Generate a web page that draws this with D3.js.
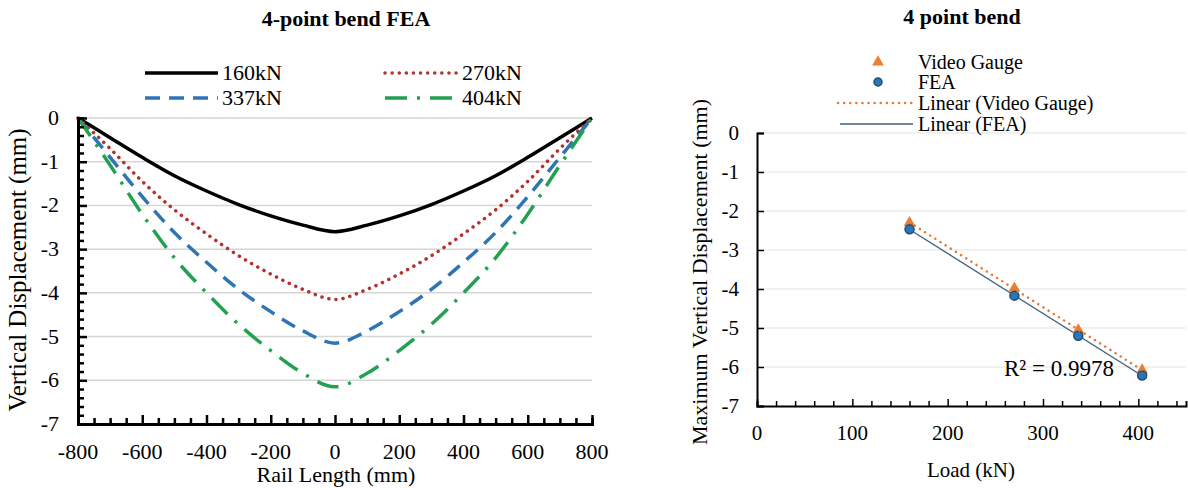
<!DOCTYPE html>
<html>
<head>
<meta charset="utf-8">
<script src="https://cdn.jsdelivr.net/npm/d3@7"></script>
<style>
  body { margin: 0; background: #fff; }
  svg { display: block; }
  text { font-family: "Liberation Serif", "Times New Roman", serif; fill: #000; }
</style>
</head>
<body>
<svg id="chart" width="1188" height="488"></svg>
<script>
// Left chart: deflection along rail
const railLength = [-800, -700, -600, -500, -400, -300, -200, -100, 0, 100, 200, 300, 400, 500, 600, 700, 800];
const defl160 = [0, -0.45, -0.9, -1.32, -1.67, -1.98, -2.24, -2.45, -2.6, -2.45, -2.24, -1.98, -1.67, -1.32, -0.9, -0.45, 0];
const defl270 = [0, -0.7, -1.45, -2.1, -2.65, -3.15, -3.57, -3.92, -4.15, -3.92, -3.57, -3.15, -2.65, -2.1, -1.45, -0.7, 0];
const defl337 = [0, -0.9, -1.8, -2.62, -3.3, -3.92, -4.43, -4.87, -5.15, -4.87, -4.43, -3.92, -3.3, -2.62, -1.8, -0.9, 0];
const defl404 = [0, -1.08, -2.2, -3.2, -4.0, -4.72, -5.32, -5.84, -6.15, -5.84, -5.32, -4.72, -4.0, -3.2, -2.2, -1.08, 0];
const leftNames = ["160kN", "270kN", "337kN", "404kN"];
const leftXTicks = [-800, -600, -400, -200, 0, 200, 400, 600, 800];
const leftYTicks = [0, -1, -2, -3, -4, -5, -6, -7];

// Right chart: max deflection vs load
const loads = [160, 270, 337, 404];
const videoGauge = [-2.3, -3.98, -5.05, -6.08];
const feaMax = [-2.47, -4.17, -5.2, -6.22];
const rightXTicks = [0, 100, 200, 300, 400];
const rightYTicks = [0, -1, -2, -3, -4, -5, -6, -7];
const rSquared = "0.9978";

const FONT = "Liberation Serif, Times New Roman, serif";
const svg = d3.select("#chart");

leftPlotter();
rightPlotter();

function addText(g, x, y, str, size, anchor, bold) {
    return g.append("text")
        .attr("x", x).attr("y", y)
        .attr("text-anchor", anchor || "start")
        .attr("font-family", FONT)
        .attr("font-size", size)
        .attr("font-weight", bold ? "bold" : "normal")
        .text(str);
}

function leftPlotter() {
    const x = d3.scaleLinear().domain([-800, 800]).range([78, 592]);
    const y = d3.scaleLinear().domain([0, -7]).range([118, 424]);

    const g = svg.append("g");

    // gridlines
    g.selectAll(".grid")
        .data(leftYTicks.slice(0, -1))
        .enter().append("line")
        .attr("x1", x(-800)).attr("x2", x(800))
        .attr("y1", d => y(d)).attr("y2", d => y(d))
        .attr("stroke", "#d6d6d6").attr("stroke-width", 1.5);

    const styles = [
        { color: "#000000", dash: null, cap: "butt", w: 3.5 },
        { color: "#b3322f", dash: "0.1 7", cap: "round", w: 3.5 },
        { color: "#2e75b6", dash: "15 9", cap: "butt", w: 3.5 },
        { color: "#22a150", dash: "22 10 3 10", cap: "butt", w: 3.5 }
    ];
    const series = [defl160, defl270, defl337, defl404];

    const line = d3.line()
        .x((d, i) => x(railLength[i]))
        .y(d => y(d))
        .curve(d3.curveMonotoneX);

    series.forEach(function(s, k) {
        g.append("path")
            .datum(s)
            .attr("d", line)
            .attr("fill", "none")
            .attr("stroke", styles[k].color)
            .attr("stroke-width", styles[k].w)
            .attr("stroke-linecap", styles[k].cap)
            .attr("stroke-dasharray", styles[k].dash);
    });

    // axes with inside ticks
    const xMinor = d3.range(-800, 801, 50);
    const xAxis = g.append("g").attr("transform", `translate(0,${y(-7)})`);
    xAxis.call(d3.axisBottom(x).tickValues(xMinor).tickSize(-6).tickFormat(""));
    xAxis.selectAll(".tick line").attr("stroke", "#000").attr("stroke-width", 2.5)
        .attr("y2", d => leftXTicks.includes(d) ? -9 : -6);
    xAxis.select(".domain").attr("stroke", "#000").attr("stroke-width", 3);

    const yMinor = d3.range(0, 36).map(i => -i * 0.2);
    const yAxis = g.append("g").attr("transform", `translate(${x(-800)},0)`);
    yAxis.call(d3.axisLeft(y).tickValues(yMinor).tickSize(-6).tickFormat(""));
    yAxis.selectAll(".tick line").attr("stroke", "#000").attr("stroke-width", 2.5)
        .attr("x2", (d, i) => i % 5 == 0 ? 9 : 6);
    yAxis.select(".domain").attr("stroke", "#000").attr("stroke-width", 3);

    // tick labels
    leftXTicks.forEach(d => addText(g, x(d), 459, d, 22, "middle"));
    leftYTicks.forEach(d => addText(g, 59, y(d) + 7, d, 22, "end"));

    // titles
    addText(g, 346, 26, "4-point bend FEA", 22, "middle", true);
    addText(g, 336, 482, "Rail Length (mm)", 22, "middle");
    addText(g, 0, 0, "Vertical Displacement (mm)", 25, "middle")
        .attr("transform", "translate(26,270) rotate(-90)");

    // legend
    const legendPos = [[145, 73], [385, 73], [145, 98], [385, 98]];
    leftNames.forEach(function(name, k) {
        const p = legendPos[k];
        g.append("line")
            .attr("x1", p[0]).attr("x2", p[0] + 73)
            .attr("y1", p[1]).attr("y2", p[1])
            .attr("stroke", styles[k].color)
            .attr("stroke-width", styles[k].w)
            .attr("stroke-linecap", styles[k].cap)
            .attr("stroke-dasharray", styles[k].dash);
        addText(g, p[0] + 77, p[1] + 7, name, 22);
    });
}

function linearFit(xs, ys) {
    const mx = d3.mean(xs), my = d3.mean(ys);
    let sxy = 0, sxx = 0;
    xs.forEach((v, i) => { sxy += (v - mx) * (ys[i] - my); sxx += (v - mx) * (v - mx); });
    const b = sxy / sxx;
    return { slope: b, intercept: my - b * mx };
}

function rightPlotter() {
    const x = d3.scaleLinear().domain([0, 450]).range([757, 1186]);
    const y = d3.scaleLinear().domain([0, -7]).range([133, 406]);

    const g = svg.append("g");

    g.selectAll(".grid")
        .data(rightYTicks.slice(0, -1))
        .enter().append("line")
        .attr("x1", x(0)).attr("x2", x(450))
        .attr("y1", d => y(d)).attr("y2", d => y(d))
        .attr("stroke", "#e3e3e3").attr("stroke-width", 1);

    // x axis
    const xAxis = g.append("g").attr("transform", `translate(0,${y(-7)})`);
    xAxis.call(d3.axisBottom(x).tickValues(d3.range(0, 451, 20)).tickSize(-5).tickFormat(""));
    xAxis.selectAll(".tick line").attr("stroke", "#000").attr("stroke-width", 1.5)
        .attr("y2", d => d % 100 == 0 ? -7 : -5);
    xAxis.select(".domain").attr("stroke", "#000").attr("stroke-width", 2);

    // y axis
    const yAxis = g.append("g").attr("transform", `translate(${x(0)},0)`);
    yAxis.call(d3.axisLeft(y).tickValues(rightYTicks).tickSize(-7).tickFormat(""));
    yAxis.selectAll(".tick line").attr("stroke", "#000").attr("stroke-width", 1.5);
    yAxis.select(".domain").attr("stroke", "#000").attr("stroke-width", 2);

    rightXTicks.forEach(d => addText(g, x(d), 440, d, 21, "middle"));
    rightYTicks.forEach(d => addText(g, 739, y(d) + 7, d, 21, "end"));

    // trendlines
    const fitVG = linearFit(loads, videoGauge);
    const fitFEA = linearFit(loads, feaMax);
    const x0 = d3.min(loads), x1 = d3.max(loads);

    g.append("line")
        .attr("x1", x(x0)).attr("x2", x(x1))
        .attr("y1", y(fitFEA.intercept + fitFEA.slope * x0))
        .attr("y2", y(fitFEA.intercept + fitFEA.slope * x1))
        .attr("stroke", "#3b5f7d").attr("stroke-width", 1.3);

    // markers
    const tri = d3.symbol().type(d3.symbolTriangle).size(60);
    g.selectAll(".vg")
        .data(videoGauge)
        .enter().append("path")
        .attr("d", tri)
        .attr("transform", (d, i) => `translate(${x(loads[i])},${y(d)})`)
        .attr("fill", "#ed7d31");

    g.selectAll(".fea")
        .data(feaMax)
        .enter().append("circle")
        .attr("cx", (d, i) => x(loads[i]))
        .attr("cy", d => y(d))
        .attr("r", 4.5)
        .attr("fill", "#2e75b6")
        .attr("stroke", "#1f4e79").attr("stroke-width", 1.5);

    g.append("line")
        .attr("x1", x(x0)).attr("x2", x(x1))
        .attr("y1", y(fitVG.intercept + fitVG.slope * x0))
        .attr("y2", y(fitVG.intercept + fitVG.slope * x1))
        .attr("stroke", "#e07b39").attr("stroke-width", 2.5)
        .attr("stroke-linecap", "round")
        .attr("stroke-dasharray", "0.1 6");

    addText(g, 1004, 376, "R² = " + rSquared, 23);

    // titles
    addText(g, 962, 24, "4 point bend", 22, "middle", true);
    addText(g, 971, 477, "Load (kN)", 21, "middle");
    addText(g, 0, 0, "Maximum Vertical Displacement (mm)", 22, "middle")
        .attr("transform", "translate(707,272) rotate(-90)");

    // legend
    g.append("path").attr("d", tri).attr("transform", "translate(878,62)").attr("fill", "#ed7d31");
    g.append("circle").attr("cx", 878).attr("cy", 82).attr("r", 4)
        .attr("fill", "#2e75b6").attr("stroke", "#1f4e79").attr("stroke-width", 1.5);
    g.append("line").attr("x1", 838).attr("x2", 913).attr("y1", 103).attr("y2", 103)
        .attr("stroke", "#e07b39").attr("stroke-width", 2.5)
        .attr("stroke-linecap", "round").attr("stroke-dasharray", "0.1 6");
    g.append("line").attr("x1", 840).attr("x2", 913).attr("y1", 124).attr("y2", 124)
        .attr("stroke", "#3b5f7d").attr("stroke-width", 1.3);

    const legendText = ["Video Gauge", "FEA", "Linear (Video Gauge)", "Linear (FEA)"];
    const legendY = [62, 82, 103, 124];
    legendText.forEach((t, i) => addText(g, 918, legendY[i] + 7, t, 20));
}
</script>
</body>
</html>
